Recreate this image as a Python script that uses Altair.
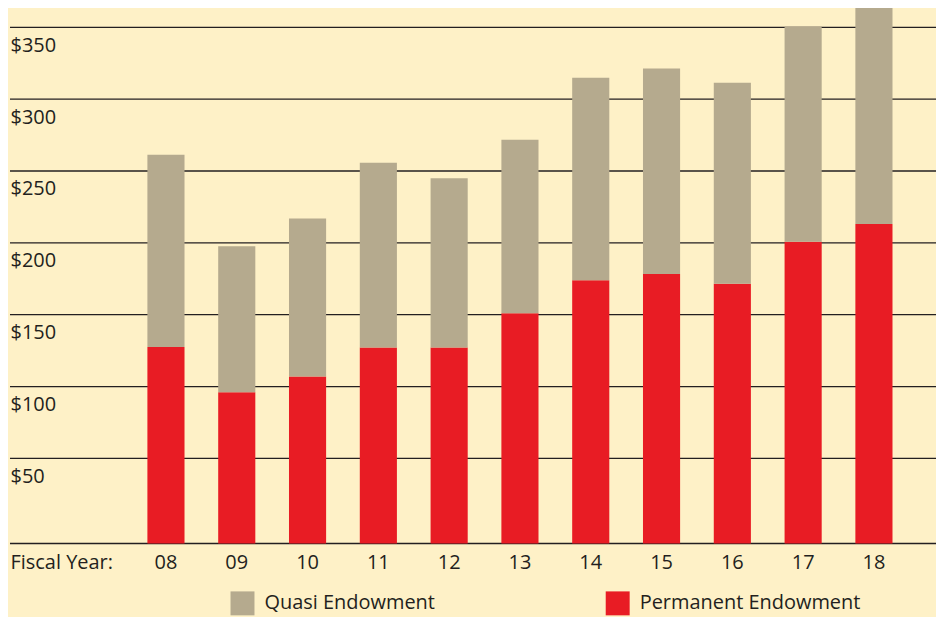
import altair as alt
import pandas as pd

# Values in $ millions, read against the gridlines
years = ["08", "09", "10", "11", "12", "13", "14", "15", "16", "17", "18"]
permanent = [127.6, 96.1, 107.0, 127.1, 127.1, 151.0, 173.9, 178.3, 171.5, 200.7, 213.2]
quasi = [133.8, 101.6, 109.9, 128.7, 117.8, 120.8, 141.0, 143.0, 139.9, 149.8, 151.8]
series_names = ["Quasi Endowment", "Permanent Endowment"]
tick_values = [50, 100, 150, 200, 250, 300, 350]

Y_MIN = -9.24   # visual baseline of the chart sits a little below $0
Y_MAX = 363.0

BG = "#FEF1C7"
RED = "#E81C24"
TAN = "#B5AA8E"
INK = "#231F20"
FONT = "Open Sans"

rows = []
for y, p, q in zip(years, permanent, quasi):
    rows.append({"year": y, "series": "Permanent Endowment", "lo": Y_MIN, "hi": p})
    rows.append({"year": y, "series": "Quasi Endowment", "lo": p, "hi": p + q})
df = pd.DataFrame(rows)
grid_df = pd.DataFrame({"v": [Y_MIN] + tick_values})

y_scale = alt.Scale(domain=[Y_MIN, Y_MAX], nice=False, zero=False)
y_axis = alt.Axis(
    title=None,
    values=tick_values,
    labelExpr="'$' + datum.value",
    labelAlign="left",
    labelBaseline="alphabetic",
    labelPadding=0,
    labelOffset=24,
    labelFlush=False,
    labelOverlap=False,
    labelFont=FONT,
    labelFontSize=20,
    labelColor=INK,
    ticks=False,
    tickSize=0,
    domain=False,
    grid=False,
)

grid = (
    alt.Chart(grid_df)
    .mark_rule(color=INK, strokeWidth=1.3)
    .encode(y=alt.Y("v:Q", scale=y_scale, axis=y_axis))
)

bars = (
    alt.Chart(df)
    .mark_bar()
    .encode(
        x=alt.X(
            "year:N",
            sort=years,
            scale=alt.Scale(range=[137.7, 884.4], paddingInner=0.4757, paddingOuter=0, round=False),
            axis=alt.Axis(
                title="Fiscal Year:",
                titleX=0,
                titleY=25.5,
                titleAlign="left",
                titleAnchor="start",
                titleBaseline="alphabetic",
                titleFont=FONT,
                titleFontSize=20,
                titleFontWeight="normal",
                titleColor=INK,
                labelAngle=0,
                labelFont=FONT,
                labelFontSize=20,
                labelColor=INK,
                labelBaseline="alphabetic",
                labelPadding=25,
                ticks=False,
                tickSize=0,
                grid=False,
                domain=False,
            ),
        ),
        y=alt.Y("hi:Q", scale=y_scale, axis=y_axis),
        y2="lo:Q",
        color=alt.Color(
            "series:N",
            scale=alt.Scale(domain=series_names, range=[TAN, RED]),
            legend=alt.Legend(
                title=None,
                orient="none",
                direction="horizontal",
                legendX=221,
                legendY=584,
                symbolType="square",
                symbolSize=576,
                symbolStrokeWidth=0,
                symbolOpacity=1,
                labelFont=FONT,
                labelFontSize=20,
                labelColor=INK,
                labelOffset=10,
                labelLimit=0,
                columnPadding=171,
                padding=0,
            ),
        ),
    )
)

chart = (
    alt.layer(grid, bars)
    .properties(
        width=928,
        height=536,
        autosize=alt.AutoSizeParams(type="none"),
        padding={"left": 2, "top": 0, "right": 0, "bottom": 73},
        background=BG,
    )
    .configure_view(stroke=None)
)

chart.save("out.html", embed_options={"renderer": "svg", "actions": False})
